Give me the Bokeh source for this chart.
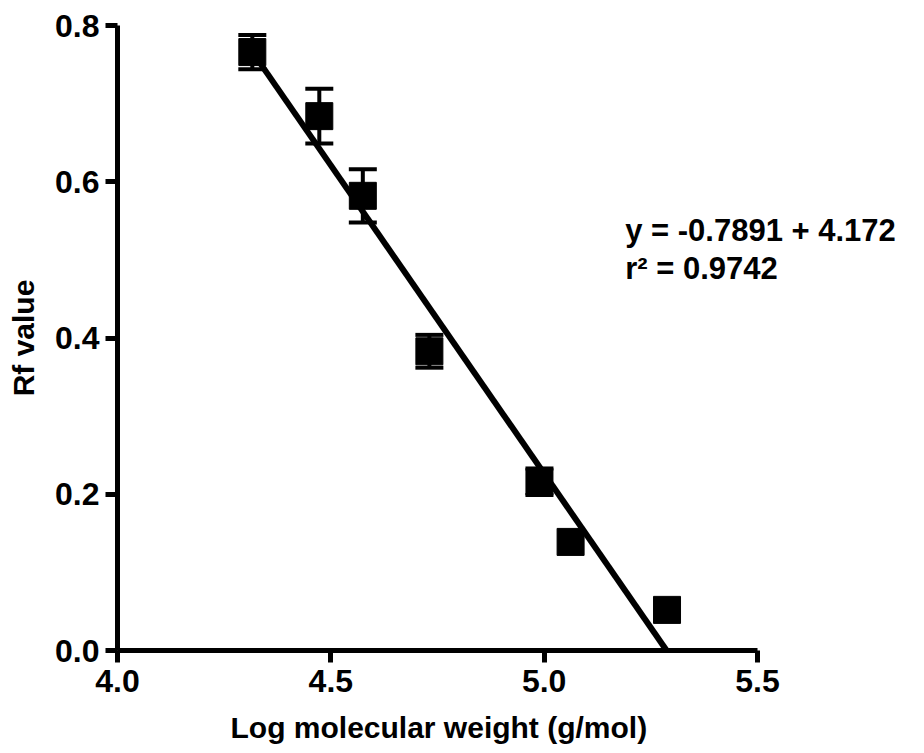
from bokeh.plotting import figure
from bokeh.models import FixedTicker, Whisker, TeeHead, ColumnDataSource, Label, Title
from bokeh.embed import file_html
from bokeh.resources import INLINE

# ---- data ----
log_mw = [4.316, 4.473, 4.575, 4.731, 4.989, 5.062, 5.288]
rf_value = [0.766, 0.684, 0.582, 0.383, 0.216, 0.139, 0.052]
rf_error = [0.022, 0.035, 0.034, 0.021, 0.017, 0.0, 0.0]

fit_slope = -0.7891
fit_intercept = 4.172
r_squared = 0.9742

x_ticks = [4.0, 4.5, 5.0, 5.5]
x_tick_labels = ["4.0", "4.5", "5.0", "5.5"]
y_ticks = [0.0, 0.2, 0.4, 0.6, 0.8]
y_tick_labels = ["0.0", "0.2", "0.4", "0.6", "0.8"]
x_title = "Log molecular weight (g/mol)"
y_title = "Rf value"

FONT = "Liberation Sans"

# frame extends to the right beyond 5.5 so the equation text fits; the axis itself stops at 5.5
p = figure(frame_width=791, frame_height=625, output_backend="svg", toolbar_location=None,
           x_range=(4.0, 5.854), y_range=(0.0, 0.8),
           min_border_left=117, min_border_right=0, min_border_top=25, min_border_bottom=10)
p.outline_line_color = None
p.grid.visible = False
p.background_fill_color = "white"
p.border_fill_color = "white"

for ax, ticks, labels in ((p.xaxis[0], x_ticks, x_tick_labels), (p.yaxis[0], y_ticks, y_tick_labels)):
    ax.ticker = FixedTicker(ticks=ticks)
    ax.bounds = (ticks[0], ticks[-1])
    ax.major_label_overrides = {t: l for t, l in zip(ticks, labels)}
    ax.axis_line_width = 5
    ax.axis_line_color = "black"
    ax.major_tick_line_width = 5
    ax.major_tick_line_color = "black"
    ax.major_tick_in = 0
    ax.major_tick_out = 12
    ax.minor_tick_line_color = None
    ax.major_label_text_font = FONT
    ax.major_label_text_font_style = "bold"
    ax.major_label_text_font_size = "32px"
    ax.major_label_text_color = "black"
    ax.axis_label_text_font = FONT
    ax.axis_label_text_font_style = "bold"
    ax.axis_label_text_font_size = "30px"
    ax.axis_label_text_color = "black"

p.yaxis.axis_label = y_title
p.xaxis.major_label_standoff = 7
p.yaxis.major_label_standoff = 6
p.yaxis.axis_label_standoff = 12

# x-axis title, centred under the 4.0-5.5 axis span
p.add_layout(Title(text=x_title, align="left", offset=113, text_font=FONT, text_font_style="bold",
                   text_font_size="30px", text_color="black", standoff=28), "below")

# regression line from the first point down to y = 0
x_start = min(log_mw)
x_end = -fit_intercept / fit_slope
fit_src = ColumnDataSource(dict(x=[x_start, x_end],
                                y=[fit_slope * x_start + fit_intercept, fit_slope * x_end + fit_intercept]))
p.line("x", "y", source=fit_src, line_width=6, line_color="black")

# error bars
ex = [x for x, e in zip(log_mw, rf_error) if e > 0]
ey = [y for y, e in zip(rf_value, rf_error) if e > 0]
ee = [e for e in rf_error if e > 0]
err_src = ColumnDataSource(dict(x=ex, lower=[y - e for y, e in zip(ey, ee)], upper=[y + e for y, e in zip(ey, ee)]))
w = Whisker(source=err_src, base="x", lower="lower", upper="upper", line_width=4, line_color="black",
            upper_head=TeeHead(size=28, line_width=4, line_color="black"),
            lower_head=TeeHead(size=28, line_width=4, line_color="black"))
p.add_layout(w)

pts = ColumnDataSource(dict(x=log_mw, y=rf_value))
p.scatter("x", "y", source=pts, marker="square", size=27, fill_color="black", line_color="black")

# equation annotation
eq1 = Label(x=5.19, y=0.538, text="y = %.4f + %.3f" % (fit_slope, fit_intercept),
            text_font=FONT, text_font_style="bold", text_font_size="31px",
            text_color="black", text_baseline="middle", text_align="left")
eq2 = Label(x=5.19, y=0.489, text="r\u00b2 = %.4f" % r_squared,
            text_font=FONT, text_font_style="bold", text_font_size="31px",
            text_color="black", text_baseline="middle", text_align="left")
p.add_layout(eq1)
p.add_layout(eq2)

open("out.html", "w").write(file_html(p, INLINE))
